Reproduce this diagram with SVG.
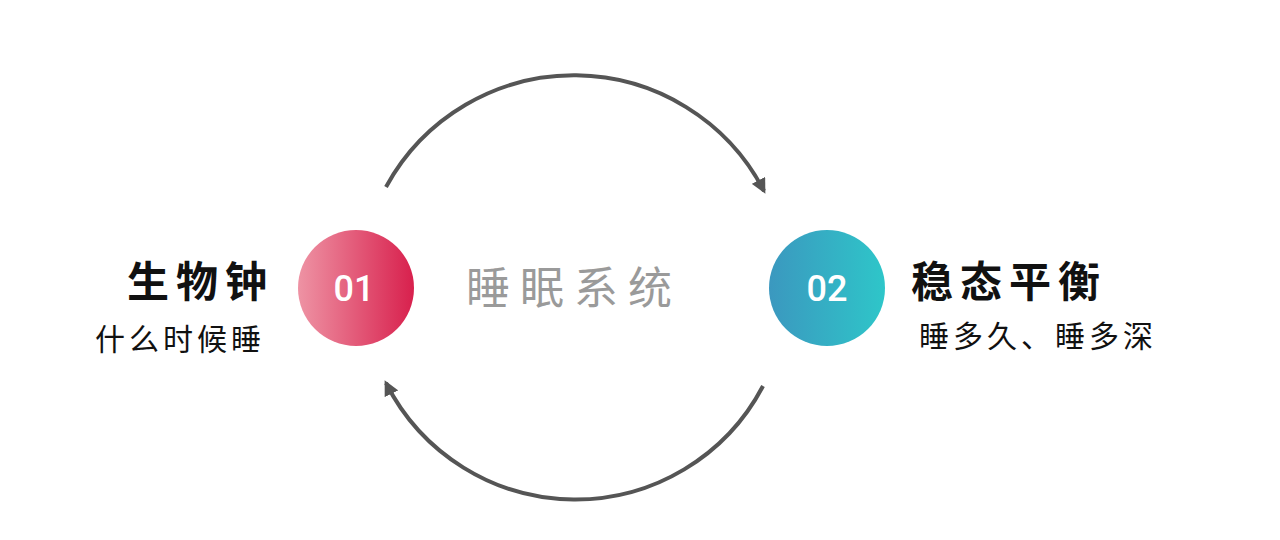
<svg xmlns="http://www.w3.org/2000/svg" width="1280" height="540" viewBox="0 0 1280 540">
<style>
.arc{fill:none;stroke:#555;stroke-width:4}
.num{font-family:Roboto,"Liberation Sans",sans-serif;font-weight:500;font-size:36px;fill:#fff;text-anchor:middle}
.title{font-family:"Noto Sans CJK SC",sans-serif;font-weight:bold;font-size:42px;fill:#111;letter-spacing:7px}
.sub{font-family:"Noto Sans CJK SC",sans-serif;font-size:30px;fill:#111;letter-spacing:4px}
.center{font-family:"Noto Sans CJK SC",sans-serif;font-size:44px;fill:#9a9a9a;letter-spacing:10px}
</style>
<defs>
<linearGradient id="g1" x1="0" y1="0" x2="1" y2="0">
<stop offset="0" stop-color="#ee93a4"/>
<stop offset="1" stop-color="#d8204d"/>
</linearGradient>
<linearGradient id="g2" x1="0" y1="0" x2="1" y2="0">
<stop offset="0" stop-color="#3b98bf"/>
<stop offset="1" stop-color="#2ec6c9"/>
</linearGradient>
<marker id="ah" viewBox="0 0 10 10" refX="8" refY="5" markerWidth="15" markerHeight="15" markerUnits="userSpaceOnUse" orient="auto">
<path d="M0,0 L10,5 L0,10 z" fill="#555"/>
</marker>
</defs>
<rect width="1280" height="540" fill="#fff"/>
<g id="connectors">
<path class="arc" d="M 386 187 A 214 214 0 0 1 764 191" marker-end="url(#ah)"/>
<path class="arc" d="M 763 386 A 212 212 0 0 1 386 383" marker-end="url(#ah)"/>
</g>
<g id="node-01">
<circle cx="356" cy="288" r="58" fill="url(#g1)"/>
<text class="num" x="354" y="301">01</text>
</g>
<g id="node-02">
<circle cx="827" cy="288" r="58" fill="url(#g2)"/>
<text class="num" x="827" y="301">02</text>
</g>
<g id="center-label">
<text class="center" x="466" y="304">睡眠系统</text>
</g>
<g id="label-01">
<text class="title" x="127" y="297">生物钟</text>
<text class="sub" x="95" y="350">什么时候睡</text>
</g>
<g id="label-02">
<text class="title" x="911" y="297">稳态平衡</text>
<text class="sub" x="919" y="347">睡多久、睡多深</text>
</g>
</svg>
